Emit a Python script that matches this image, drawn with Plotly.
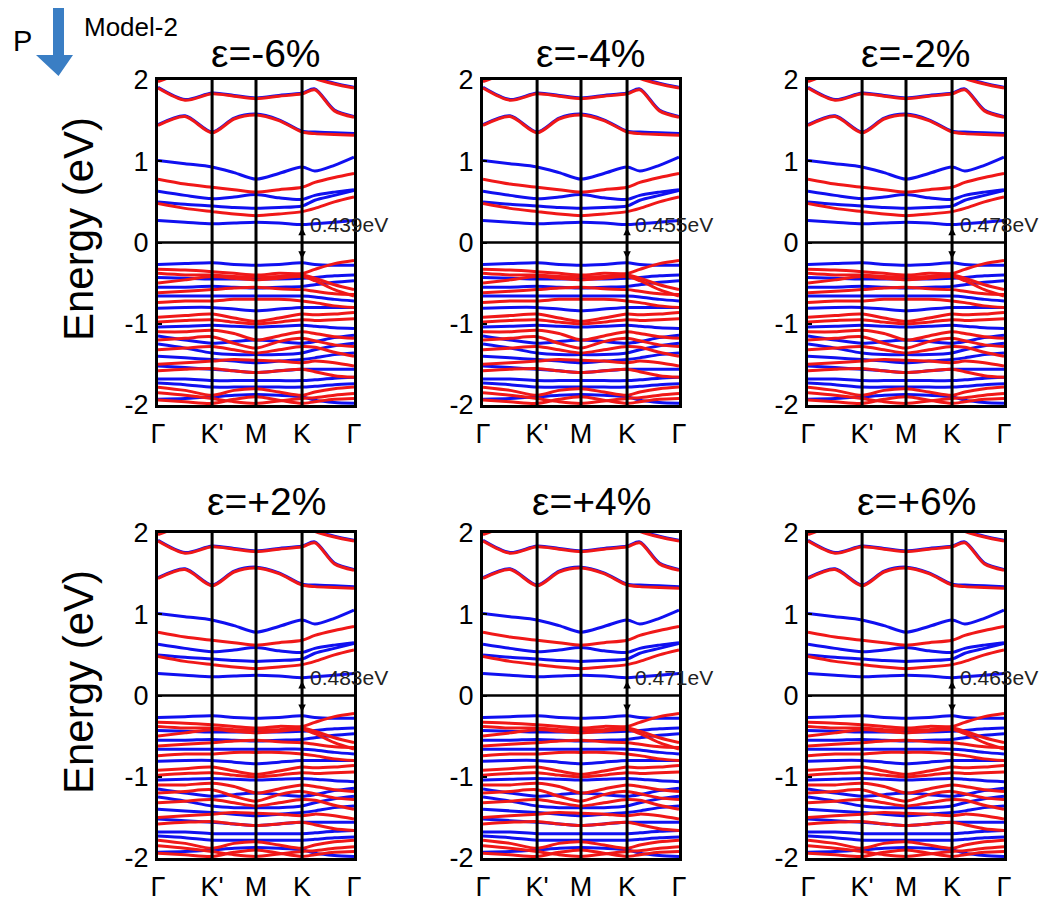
import plotly.graph_objects as go

# ---------------- data ----------------
# k-path sample positions (fraction of path length) and high-symmetry labels
k_pts = [0.0, 0.138, 0.276, 0.388, 0.5, 0.617, 0.735, 0.80, 0.90, 1.0]
sym_pos = [0.0, 0.276, 0.5, 0.735, 1.0]
sym_labels = ["Γ", "K'", "M", "K", "Γ"]

panel_titles = ["ε=-6%", "ε=-4%", "ε=-2%", "ε=+2%", "ε=+4%", "ε=+6%"]
gap_labels = ["0.439eV", "0.455eV", "0.478eV", "0.483eV", "0.471eV", "0.463eV"]

# band energies (eV) at k_pts
blue_bands = [
    # conduction (spin-down)
    [1.99, 2.11, 2.21, 2.21, 2.21, 2.21, 2.11, 2.03, 1.96, 1.91],
    [1.91, 1.76, 1.84, 1.81, 1.78, 1.81, 1.84, 1.89, 1.63, 1.55],
    [1.45, 1.56, 1.36, 1.53, 1.58, 1.51, 1.37, 1.36, 1.35, 1.34],
    [1.01, 0.97, 0.93, 0.86, 0.78, 0.85, 0.93, 0.88, 0.95, 1.05],
    [0.63, 0.58, 0.54, 0.56, 0.59, 0.55, 0.53, 0.58, 0.62, 0.65],
    [0.50, 0.47, 0.45, 0.43, 0.42, 0.43, 0.45, 0.52, 0.58, 0.64],
    [0.27, 0.25, 0.23, 0.24, 0.25, 0.24, 0.22, 0.23, 0.25, 0.27],
    # valence
    [-0.27, -0.26, -0.25, -0.27, -0.28, -0.27, -0.25, -0.27, -0.28, -0.28],
    [-0.43, -0.44, -0.45, -0.45, -0.45, -0.45, -0.44, -0.43, -0.41, -0.40],
    [-0.55, -0.55, -0.54, -0.55, -0.56, -0.55, -0.54, -0.52, -0.49, -0.47],
    [-0.66, -0.66, -0.66, -0.66, -0.66, -0.66, -0.66, -0.67, -0.70, -0.72],
    [-0.81, -0.80, -0.80, -0.82, -0.84, -0.82, -0.80, -0.80, -0.80, -0.80],
    [-1.04, -1.03, -1.02, -1.03, -1.04, -1.03, -1.02, -1.03, -1.05, -1.06],
    [-1.15, -1.20, -1.24, -1.22, -1.20, -1.22, -1.24, -1.22, -1.17, -1.14],
    [-1.25, -1.30, -1.36, -1.38, -1.38, -1.38, -1.36, -1.32, -1.27, -1.24],
    [-1.40, -1.42, -1.44, -1.46, -1.48, -1.46, -1.44, -1.42, -1.38, -1.36],
    [-1.52, -1.54, -1.56, -1.58, -1.60, -1.58, -1.56, -1.56, -1.56, -1.56],
    [-1.68, -1.68, -1.70, -1.70, -1.70, -1.70, -1.70, -1.69, -1.67, -1.66],
    [-1.73, -1.75, -1.78, -1.78, -1.78, -1.78, -1.78, -1.77, -1.75, -1.74],
    [-1.93, -1.92, -1.90, -1.88, -1.87, -1.88, -1.90, -1.94, -1.97, -1.98],
]

red_bands = [
    # conduction (spin-up)
    [1.98, 2.10, 2.20, 2.20, 2.20, 2.20, 2.10, 2.02, 1.95, 1.90],
    [1.90, 1.75, 1.83, 1.80, 1.77, 1.80, 1.83, 1.88, 1.62, 1.54],
    [1.44, 1.55, 1.35, 1.52, 1.57, 1.50, 1.36, 1.34, 1.33, 1.32],
    [0.78, 0.72, 0.68, 0.65, 0.62, 0.65, 0.68, 0.74, 0.80, 0.85],
    [0.48, 0.42, 0.38, 0.35, 0.33, 0.35, 0.38, 0.42, 0.50, 0.56],
    # valence
    [-0.33, -0.34, -0.36, -0.38, -0.40, -0.38, -0.38, -0.33, -0.26, -0.22],
    [-0.38, -0.40, -0.40, -0.42, -0.42, -0.42, -0.40, -0.44, -0.52, -0.58],
    [-0.50, -0.46, -0.42, -0.44, -0.46, -0.44, -0.42, -0.47, -0.58, -0.66],
    [-0.62, -0.60, -0.58, -0.56, -0.55, -0.57, -0.58, -0.60, -0.63, -0.64],
    [-0.74, -0.72, -0.72, -0.70, -0.70, -0.70, -0.72, -0.74, -0.78, -0.80],
    [-0.92, -0.90, -0.88, -0.93, -0.97, -0.93, -0.88, -0.89, -0.88, -0.86],
    [-0.98, -0.96, -0.95, -0.98, -1.00, -0.98, -0.95, -0.96, -0.95, -0.94],
    [-1.10, -1.10, -1.08, -1.12, -1.20, -1.15, -1.10, -1.12, -1.16, -1.18],
    [-1.20, -1.18, -1.16, -1.24, -1.30, -1.22, -1.18, -1.21, -1.26, -1.28],
    [-1.32, -1.30, -1.28, -1.32, -1.36, -1.32, -1.28, -1.29, -1.35, -1.40],
    [-1.50, -1.48, -1.46, -1.44, -1.45, -1.46, -1.48, -1.46, -1.48, -1.52],
    [-1.58, -1.56, -1.55, -1.58, -1.60, -1.58, -1.56, -1.59, -1.64, -1.66],
    [-1.78, -1.82, -1.88, -1.82, -1.80, -1.84, -1.88, -1.84, -1.80, -1.78],
    [-1.85, -1.88, -1.92, -1.96, -1.98, -1.95, -1.92, -1.91, -1.88, -1.86],
    [-1.94, -1.96, -1.98, -1.93, -1.90, -1.94, -1.98, -1.96, -1.93, -1.92],
]

cbm_arrow = 0.18
vbm_arrow = -0.22
y_ticks = [-2, -1, 0, 1, 2]
y_ticktext = ["-2", "-1", "0", "1", "2"]

# ---------------- layout geometry ----------------
W, H = 1045, 903
col_left = [158, 483, 808]
panel_w = 196
row_top = [80, 533]
title_y = [54, 501]
panel_h = 325
FONT = "Arial, Liberation Sans, sans-serif"

BLUE = "#1010f0"
RED = "#f01818"

fig = go.Figure()
annotations = []
shapes = []

for i in range(6):
    r, c = divmod(i, 3)
    n = i + 1
    xa = "x" if n == 1 else f"x{n}"
    ya = "y" if n == 1 else f"y{n}"
    x0 = col_left[c] / W
    x1 = (col_left[c] + panel_w) / W
    y1 = 1 - row_top[r] / H
    y0 = 1 - (row_top[r] + panel_h) / H

    for b in blue_bands:
        fig.add_trace(go.Scatter(x=k_pts, y=b, mode="lines", xaxis=xa, yaxis=ya,
                                 line=dict(color=BLUE, width=3, shape="spline", smoothing=0.8),
                                 showlegend=False, hoverinfo="skip"))
    for b in red_bands:
        fig.add_trace(go.Scatter(x=k_pts, y=b, mode="lines", xaxis=xa, yaxis=ya,
                                 line=dict(color=RED, width=3, shape="spline", smoothing=0.8),
                                 showlegend=False, hoverinfo="skip"))

    fig.layout[("xaxis" if n == 1 else f"xaxis{n}")] = dict(
        domain=[x0, x1], range=[0, 1], anchor=ya, automargin=False,
        tickvals=sym_pos, ticktext=sym_labels, ticks="",
        showgrid=False, zeroline=False,
        showline=True, linecolor="black", linewidth=3, mirror=True,
        tickfont=dict(family=FONT, size=27, color="black"),
        ticklabelstandoff=3,
    )
    fig.layout[("yaxis" if n == 1 else f"yaxis{n}")] = dict(
        domain=[y0, y1], range=[-2, 2], anchor=xa, automargin=False,
        tickvals=y_ticks, ticktext=y_ticktext, ticks="inside", ticklen=4,
        tickwidth=2, tickcolor="black",
        showgrid=False, zeroline=False,
        showline=True, linecolor="black", linewidth=3, mirror=True,
        tickfont=dict(family=FONT, size=27, color="black"),
        ticklabelstandoff=1,
    )

    # vertical high-symmetry lines
    for p in sym_pos[1:-1]:
        shapes.append(dict(type="line", xref=xa, yref=f"{ya} domain", x0=p, x1=p, y0=0, y1=1,
                           line=dict(color="black", width=3), layer="above"))
    # Fermi level line
    shapes.append(dict(type="line", xref=f"{xa} domain", yref=ya, x0=0, x1=1, y0=0, y1=0,
                       line=dict(color="black", width=2.5), layer="above"))

    # gap arrow
    kK = sym_pos[3]
    annotations.append(dict(x=kK, y=cbm_arrow, ax=kK, ay=vbm_arrow, xref=xa, yref=ya,
                            axref=xa, ayref=ya, text="", showarrow=True,
                            arrowhead=2, arrowsize=1.0, arrowwidth=1.5, arrowcolor="black",
                            arrowside="end+start"))
    annotations.append(dict(x=kK + 0.03, y=cbm_arrow + 0.04, xref=xa, yref=ya, text=gap_labels[i],
                            showarrow=False, xanchor="left", yanchor="middle",
                            font=dict(family=FONT, size=21, color="#222222")))

    # panel title
    annotations.append(dict(x=(col_left[c] + panel_w / 2 + 10) / W, y=1 - title_y[r] / H,
                            xref="paper", yref="paper", text=panel_titles[i], showarrow=False,
                            xanchor="center", yanchor="middle",
                            font=dict(family=FONT, size=39, color="black")))

# y-axis titles
for r in range(2):
    annotations.append(dict(x=78 / W, y=1 - (row_top[r] + 149) / H, xref="paper", yref="paper",
                            text="Energy (eV)", textangle=-90, showarrow=False,
                            xanchor="center", yanchor="middle",
                            font=dict(family=FONT, size=42, color="black")))

# P label, arrow, Model-2
annotations.append(dict(x=22 / W, y=1 - 41 / H, xref="paper", yref="paper", text="P",
                        showarrow=False, xanchor="center", yanchor="middle",
                        font=dict(family=FONT, size=29, color="black")))
annotations.append(dict(x=131 / W, y=1 - 27 / H, xref="paper", yref="paper", text="Model-2",
                        showarrow=False, xanchor="center", yanchor="middle",
                        font=dict(family=FONT, size=26, color="black")))
shapes.append(dict(type="path", xref="paper", yref="paper",
                   path=("M {a},{t} L {b},{t} L {b},{m} L {hr},{m} L {c},{bt} L {hl},{m} L {a},{m} Z").format(
                       a=53 / W, b=64 / W, t=1 - 8 / H, m=1 - 55 / H, hr=73 / W, hl=36 / W,
                       c=58.5 / W, bt=1 - 76 / H),
                   fillcolor="#3a7ec4", line=dict(width=0)))

fig.update_layout(
    width=W, height=H, margin=dict(l=0, r=0, t=0, b=0, autoexpand=False),
    plot_bgcolor="white", paper_bgcolor="white",
    annotations=annotations, shapes=shapes, showlegend=False,
)

fig.write_html("out.html")
